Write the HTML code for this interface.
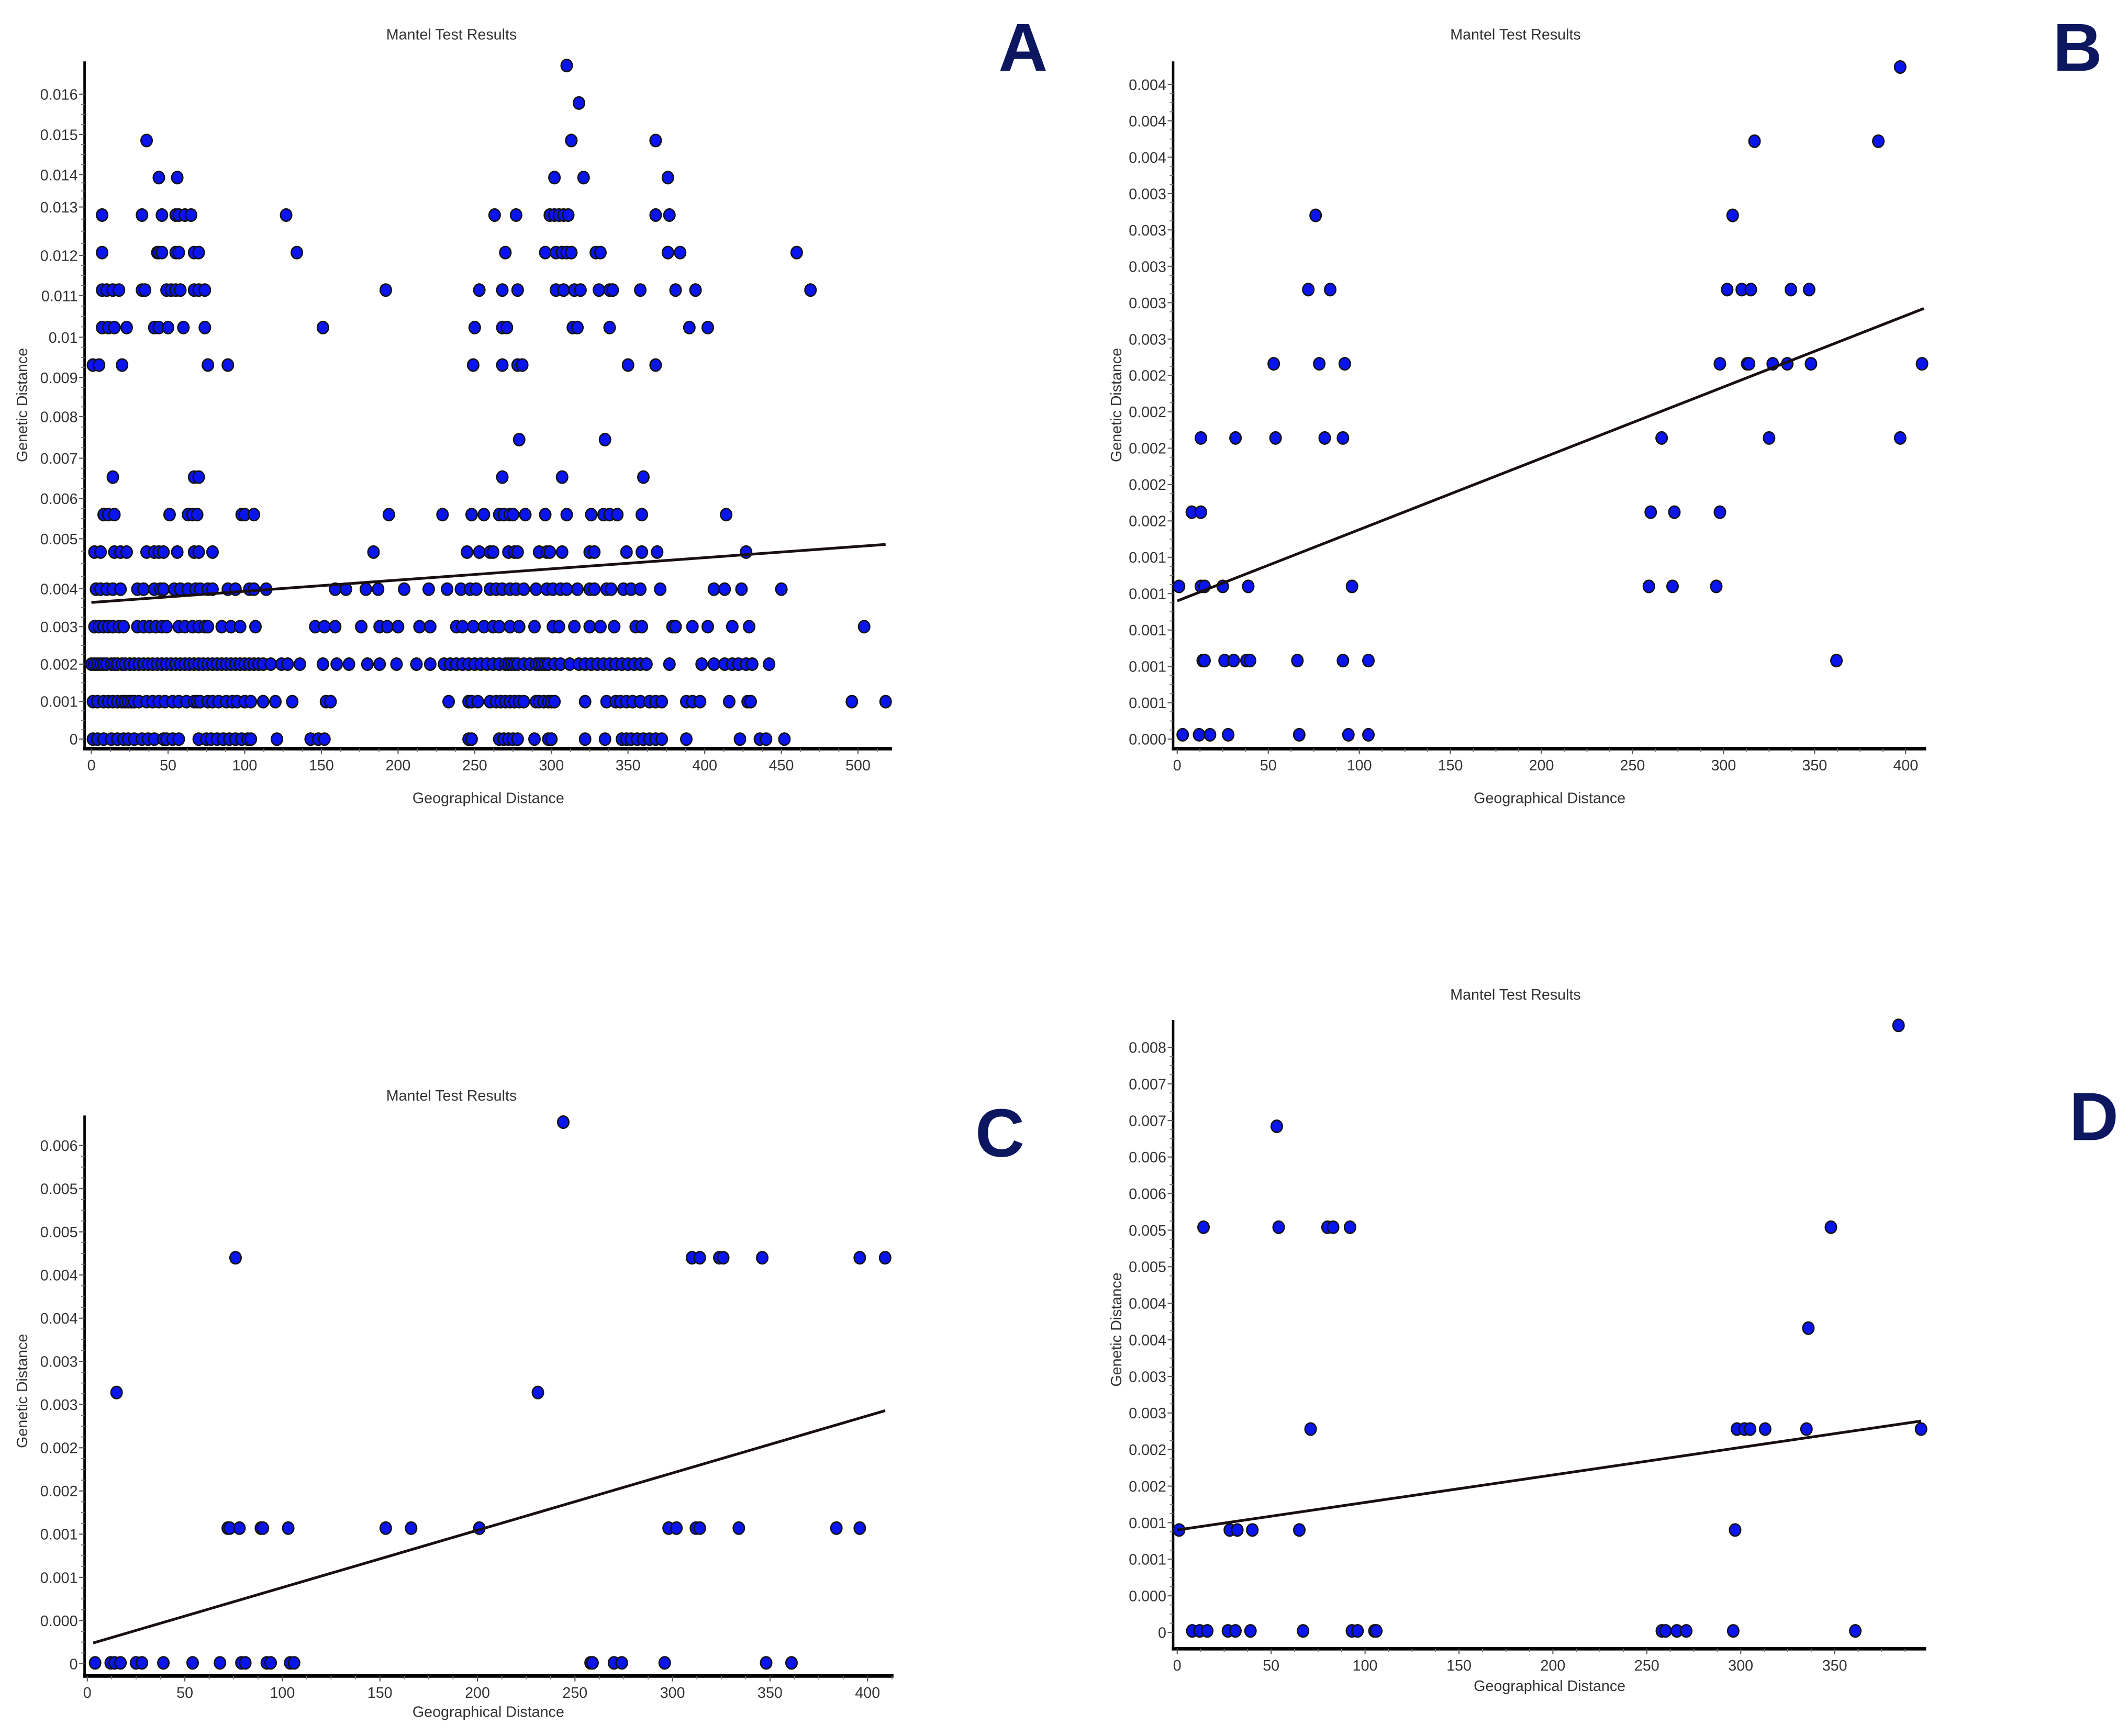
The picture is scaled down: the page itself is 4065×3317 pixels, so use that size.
<!DOCTYPE html>
<html><head><meta charset="utf-8">
<style>
html,body{margin:0;padding:0;background:#fff;}
svg{display:block;}
text{font-family:"Liberation Sans",Arial,sans-serif;fill:#333;}
</style></head>
<body>
<svg id="fig" xmlns="http://www.w3.org/2000/svg" width="4065" height="3317" viewBox="0 0 1560 1273" preserveAspectRatio="none"></svg>
<script>
// ---------- Panel A data ----------
const aLevels = [0,0.00093,0.00186,0.00279,0.00372,0.00464,0.00557,0.0065,0.00743,0.00835,0.00928,0.01021,0.01114,0.01207,0.013,0.01393,0.01485,0.01578,0.01671];
const aRow0 = [1,4,8,13,17,21,24,28,33,37,41,47,49,53,57,70,75,78,82,86,90,94,98,102,104,121,143,148,152,246,248,266,269,272,275,278,289,298,300,322,335,346,349,352,356,360,364,368,372,388,423,436,440,452];
const aRow1 = [1,4,8,11,14,17,20,22,24,26,28,31,36,40,44,48,53,57,62,67,69,71,76,79,83,88,92,95,100,104,112,120,131,153,156,233,246,248,252,260,264,267,270,273,276,279,282,290,292,295,298,300,302,322,336,342,345,349,353,358,364,368,372,388,392,397,416,428,430,496,518];
const aRow2 = [0,2,4,6,8,10,13,15,17,20,22,25,28,31,34,37,40,43,46,49,52,55,58,61,64,67,70,73,76,79,82,85,88,91,94,97,100,103,106,109,112,117,124,128,136,151,160,168,180,188,199,212,221,230,234,238,242,246,250,254,258,262,266,270,272,274,276,278,282,286,290,292,294,296,298,302,306,312,318,322,326,330,334,338,342,346,350,354,358,362,377,398,406,413,418,422,427,431,442];
const aRow3 = [2,5,8,11,14,18,21,30,34,38,42,46,49,57,61,66,70,74,76,85,91,97,107,146,152,159,176,188,193,200,214,221,238,242,249,256,262,266,273,279,289,301,305,315,325,332,341,355,359,379,381,392,402,418,429,504];
const aRow4 = [3,6,10,14,19,30,34,41,45,47,54,58,63,68,71,76,79,89,94,103,106,114,159,166,179,187,204,220,232,241,247,251,260,264,268,273,277,282,290,297,301,306,310,317,325,328,336,339,347,352,358,371,406,413,424,450];
const aRow5 = [2,6,15,19,23,36,41,44,47,56,67,70,79,184,245,253,260,262,272,276,278,292,297,299,307,325,328,349,359,369,427];
const aRow6 = [8,11,15,51,63,66,69,98,100,106,194,229,248,256,266,269,273,275,283,296,310,326,334,338,343,359,414];
const aRow7 = [14,67,70,268,307,360];
const aRow8 = [279,335];
const aRow9 = [];
const aRow10 = [1,5,20,76,89,249,268,278,281,350,368];
const aRow11 = [7,11,15,23,41,44,50,60,74,151,250,268,271,314,317,338,390,402];
const aRow12 = [7,10,14,18,33,35,49,52,55,58,67,70,74,192,253,268,278,303,308,315,319,331,338,340,358,381,394,469];
const aRow13 = [7,43,44,46,55,57,67,70,134,270,296,303,307,310,313,329,332,376,384,460];
const aRow14 = [7,33,46,55,57,61,65,127,263,277,299,302,305,308,311,368,377];
const aRow15 = [44,56,302,321,376];
const aRow16 = [36,313,368];
const aRow17 = [318];
const aRow18 = [310];
const aTickValues = [0,0.000935,0.00186,0.00279,0.00373,0.00497,0.00597,0.00697,0.008,0.00897,0.00997,0.011,0.012,0.0132,0.014,0.015,0.016];
const aTickLabels = ["0","0.001","0.002","0.003","0.004","0.005","0.006","0.007","0.008","0.009","0.01","0.011","0.012","0.013","0.014","0.015","0.016"];
const aLineX = [0,518];
const aLineY = [0.00339,0.00483];

// ---------- Panel B data ----------
const bLevels = [0.00003,0.00054,0.00105,0.00156,0.00207,0.00258,0.00309,0.0036,0.00411,0.00462];
const bRow0 = [3,12,18,28,67,94,105];
const bRow1 = [14,15,26,31,38,40,66,91,105,362];
const bRow2 = [1,13,15,25,39,96,259,272,296];
const bRow3 = [8,13,260,273,298];
const bRow4 = [13,32,54,81,91,266,325,397];
const bRow5 = [53,78,92,298,313,314,327,335,348,409];
const bRow6 = [72,84,302,310,315,337,347];
const bRow7 = [76,305];
const bRow8 = [317,385];
const bRow9 = [397];
const bTickValues = [0,0.00025,0.0005,0.00075,0.001,0.00125,0.0015,0.00175,0.002,0.00225,0.0025,0.00275,0.003,0.00325,0.0035,0.00375,0.004,0.00425,0.0045];
const bTickLabels = ["0.000","0.001","0.001","0.001","0.001","0.001","0.002","0.002","0.002","0.002","0.002","0.003","0.003","0.003","0.003","0.003","0.004","0.004","0.004"];
const bLineX = [0,410];
const bLineY = [0.00095,0.00296];

// ---------- Panel C data ----------
const cLevels = [0.00001,0.00157,0.00314,0.0047,0.00627];
const cRow0 = [4,12,14,17,25,28,39,54,68,79,81,92,94,104,106,258,259,270,274,296,348,361];
const cRow1 = [72,73,78,89,90,103,153,166,201,298,302,312,314,334,384,396];
const cRow2 = [15,231];
const cRow3 = [76,310,314,324,326,346,396,409];
const cRow4 = [244];
const cTickValues = [0,0.0005,0.001,0.0015,0.002,0.0025,0.003,0.0035,0.004,0.0045,0.005,0.0055,0.006];
const cTickLabels = ["0","0.000","0.001","0.001","0.002","0.002","0.003","0.003","0.004","0.004","0.005","0.005","0.006"];
const cLineX = [3,409];
const cLineY = [0.00024,0.00293];

// ---------- Panel D data ----------
const dLevels = [0.00002,0.0014,0.00278,0.00416,0.00554,0.00692,0.0083];
const dRow0 = [8,12,16,27,31,39,67,93,96,105,106,258,260,266,271,296,361];
const dRow1 = [1,28,32,40,65,297];
const dRow2 = [71,298,302,305,313,335,396];
const dRow3 = [336];
const dRow4 = [14,54,80,83,92,348];
const dRow5 = [53];
const dRow6 = [384];
const dTickValues = [0,0.0005,0.001,0.0015,0.002,0.0025,0.003,0.0035,0.004,0.0045,0.005,0.0055,0.006,0.0065,0.007,0.0075,0.008];
const dTickLabels = ["0","0.000","0.001","0.001","0.002","0.002","0.003","0.003","0.004","0.004","0.005","0.005","0.006","0.006","0.007","0.007","0.008"];
const dLineX = [0,396];
const dLineY = [0.0014,0.00289];

const NS = "http://www.w3.org/2000/svg";
const svg = document.getElementById('fig');
function mk(tag, attrs, parent){
  const e = document.createElementNS(NS, tag);
  for (const k in attrs) e.setAttribute(k, attrs[k]);
  (parent||svg).appendChild(e);
  return e;
}

function drawPanel(id, geo, levels, rows, tickValues, tickLabels, lineX, lineY){
  const g = mk('g', {});
  
  
  const sx = v => geo.x0 + (v - 0) * geo.xPerUnit;
  const sy = v => geo.y0 - v * geo.yPerUnit;

  // title
  const t = mk('text', {x: geo.titleX, y: geo.titleY, 'font-size': 11, 'text-anchor': 'middle'}, g);
  t.textContent = 'Mantel Test Results';
  
  

  // panel letter
  const L = mk('text', {x: geo.letterX, y: geo.letterY, 'font-size': 50, 'font-weight': 'bold', 'text-anchor': 'middle', style: 'fill:#0c1760'}, g);
  L.textContent = id;
  
  

  // axes
  const ya = mk('line', {x1: geo.axX, y1: geo.axTop, x2: geo.axX, y2: geo.axBottom, stroke: '#000', 'stroke-width': 1.8}, g);
  
  
  const xa = mk('line', {x1: geo.axX - 1, y1: geo.axBottom, x2: geo.axRight, y2: geo.axBottom, stroke: '#000', 'stroke-width': 2.6}, g);
  
  

  // y ticks
  for (let i = 0; i < tickValues.length; i++){
    const y = sy(tickValues[i]);
    mk('line', {x1: geo.axX - 4, y1: y, x2: geo.axX, y2: y, stroke: '#555', 'stroke-width': 0.8}, g);
    if (i < tickValues.length - 1){
      const y2 = sy(tickValues[i+1]);
      for (let m = 1; m < 4; m++){
        const ym = y + (y2 - y) * m / 4;
        mk('line', {x1: geo.axX - 2.5, y1: ym, x2: geo.axX, y2: ym, stroke: '#777', 'stroke-width': 0.7}, g);
      }
    }
    const tl = mk('text', {x: geo.axX - 5, y: y + 4, 'font-size': 11, 'text-anchor': 'end'}, g);
    tl.textContent = tickLabels[i];
    
    
  }
  // x ticks
  for (let v = 0; v <= geo.xMax; v += 50){
    const x = sx(v);
    mk('line', {x1: x, y1: geo.axBottom, x2: x, y2: geo.axBottom + 4, stroke: '#555', 'stroke-width': 0.8}, g);
    for (let m = 1; m < 4; m++){
      const xm = sx(v + 12.5 * m);
      if (xm < geo.axRight) mk('line', {x1: xm, y1: geo.axBottom, x2: xm, y2: geo.axBottom + 2.5, stroke: '#777', 'stroke-width': 0.7}, g);
    }
    const tl = mk('text', {x: x, y: geo.axBottom + 16, 'font-size': 11, 'text-anchor': 'middle'}, g);
    tl.textContent = String(v);
    
    
  }
  // axis titles
  const xt = mk('text', {x: geo.xTitleX, y: geo.xTitleY, 'font-size': 11, 'text-anchor': 'middle'}, g);
  xt.textContent = 'Geographical Distance';
  
  
  const yt = mk('text', {x: 0, y: 0, 'font-size': 11, 'text-anchor': 'middle', transform: 'translate(' + geo.yTitleX + ',' + geo.yTitleY + ') rotate(-90)'}, g);
  yt.textContent = 'Genetic Distance';
  
  

  // points
  for (let k = 0; k < rows.length; k++){
    const row = rows[k];
    for (let j = 0; j < row.length; j++){
      const c = mk('ellipse', {cx: sx(row[j]), cy: sy(levels[k]), rx: 4.1, ry: 4.5, fill: '#0a14ee', stroke: '#111', 'stroke-width': 1}, g);
      
      
    }
  }
  // regression line
  const rl = mk('line', {x1: sx(lineX[0]), y1: sy(lineY[0]), x2: sx(lineX[1]), y2: sy(lineY[1]), stroke: '#1a0f0f', 'stroke-width': 2}, g);
  
  
}

drawPanel('A', {x0:67, xPerUnit:1.124, y0:542, yPerUnit:29560, axX:62, axTop:45, axBottom:549, axRight:654, xMax:500,
  titleX:331, titleY:29, letterX:750, letterY:52, xTitleX:358, xTitleY:589, yTitleX:20, yTitleY:297},
  aLevels, [aRow0,aRow1,aRow2,aRow3,aRow4,aRow5,aRow6,aRow7,aRow8,aRow9,aRow10,aRow11,aRow12,aRow13,aRow14,aRow15,aRow16,aRow17,aRow18],
  aTickValues, aTickLabels, aLineX, aLineY);

drawPanel('B', {x0:863, xPerUnit:1.335, y0:542, yPerUnit:106680, axX:860, axTop:45, axBottom:549, axRight:1412, xMax:400,
  titleX:1111, titleY:29, letterX:1523, letterY:52, xTitleX:1136, xTitleY:589, yTitleX:822, yTitleY:297},
  bLevels, [bRow0,bRow1,bRow2,bRow3,bRow4,bRow5,bRow6,bRow7,bRow8,bRow9],
  bTickValues, bTickLabels, bLineX, bLineY);

drawPanel('C', {x0:64, xPerUnit:1.43, y0:1220, yPerUnit:63340, axX:62, axTop:818, axBottom:1229, axRight:655, xMax:400,
  titleX:331, titleY:807, letterX:733, letterY:848, xTitleX:358, xTitleY:1259, yTitleX:20, yTitleY:1020},
  cLevels, [cRow0,cRow1,cRow2,cRow3,cRow4],
  cTickValues, cTickLabels, cLineX, cLineY);

drawPanel('D', {x0:863, xPerUnit:1.377, y0:1197, yPerUnit:53625, axX:860, axTop:748, axBottom:1209, axRight:1412, xMax:350,
  titleX:1111, titleY:733, letterX:1535, letterY:836, xTitleX:1136, xTitleY:1240, yTitleX:822, yTitleY:975},
  dLevels, [dRow0,dRow1,dRow2,dRow3,dRow4,dRow5,dRow6],
  dTickValues, dTickLabels, dLineX, dLineY);
</script>
</body></html>
